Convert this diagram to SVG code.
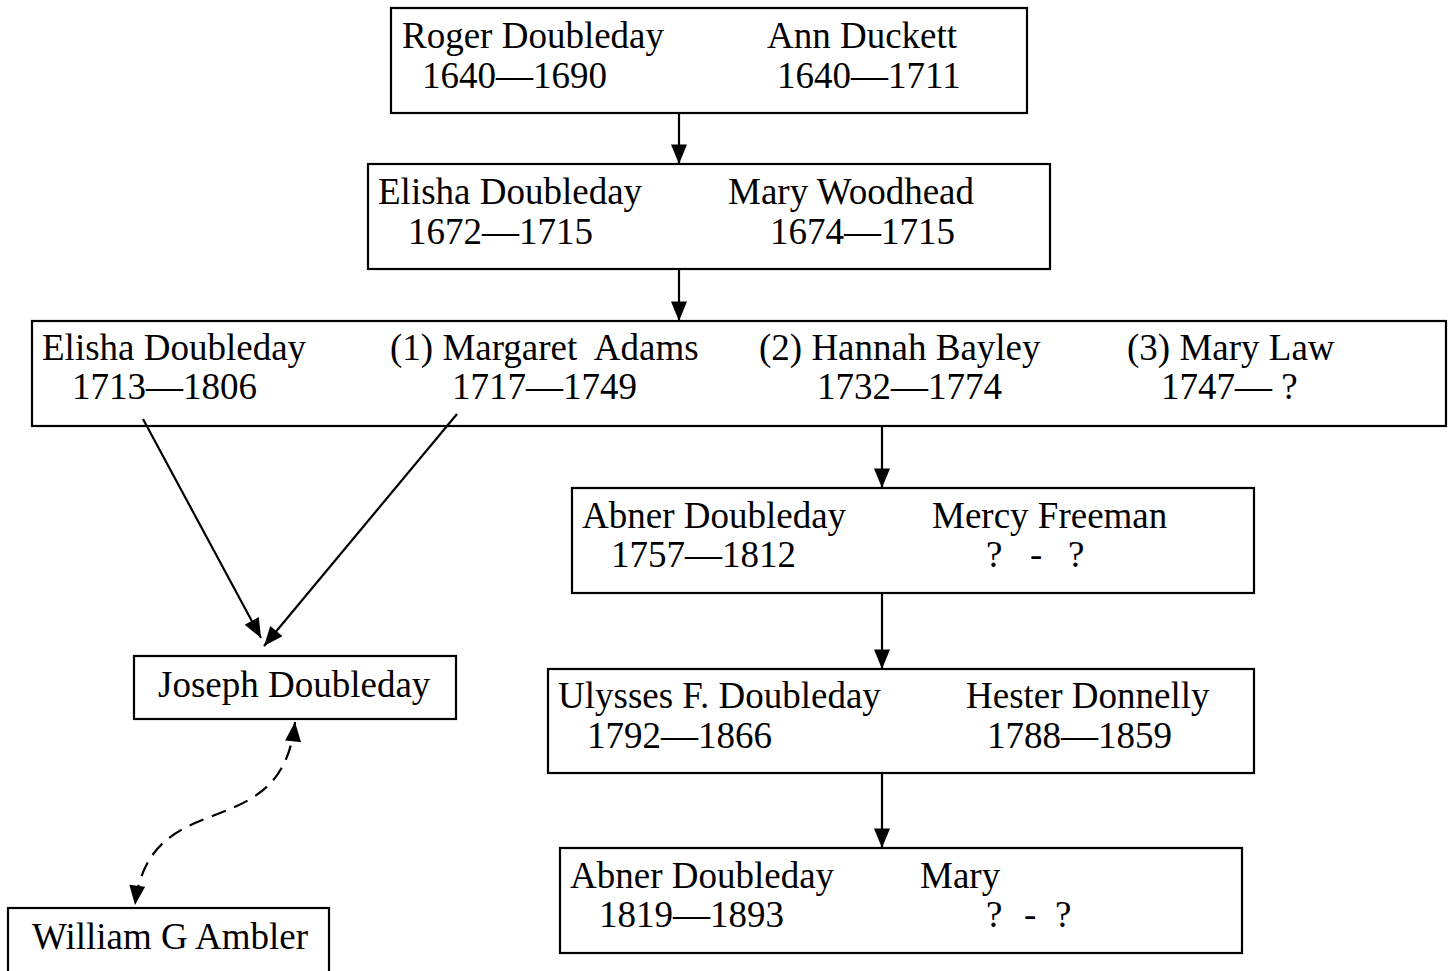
<svg xmlns="http://www.w3.org/2000/svg" width="1453" height="971" viewBox="0 0 1453 971">
<style>
.box{fill:#fff;stroke:#000;stroke-width:2.2}
text{font-family:"Liberation Serif","Times New Roman",serif;font-size:37px;fill:#000}
.pre{white-space:pre}
.c{fill:none;stroke:#000;stroke-width:2.2}
.d{stroke-dasharray:15 9}
</style>
<defs>
<marker id="ah" markerUnits="userSpaceOnUse" markerWidth="20" markerHeight="16" refX="17" refY="7" orient="auto-start-reverse" viewBox="0 0 17 14">
<path d="M0,0 L17,7 L0,14 Z" fill="#000"/>
</marker>
</defs>
<rect width="1453" height="971" fill="#fff"/>
<g id="n1">
<rect class="box" x="391" y="8" width="636" height="105"/>
<text x="402" y="48">Roger Doubleday</text>
<text x="767" y="48">Ann Duckett</text>
<text x="422" y="88">1640—1690</text>
<text x="777" y="88">1640—1711</text>
</g>
<g id="n2">
<rect class="box" x="368" y="164" width="682" height="105"/>
<text x="378" y="204">Elisha Doubleday</text>
<text x="728" y="204">Mary Woodhead</text>
<text x="408" y="244">1672—1715</text>
<text x="770" y="244">1674—1715</text>
</g>
<g id="n3">
<rect class="box" x="32" y="321" width="1414" height="105"/>
<text x="42" y="360">Elisha Doubleday</text>
<text x="390" y="360" class="pre">(1) Margaret  Adams</text>
<text x="759" y="360">(2) Hannah Bayley</text>
<text x="1127" y="360">(3) Mary Law</text>
<text x="72" y="399">1713—1806</text>
<text x="452" y="399">1717—1749</text>
<text x="817" y="399">1732—1774</text>
<text x="1161" y="399">1747— ?</text>
</g>
<g id="n4">
<rect class="box" x="572" y="488" width="682" height="105"/>
<text x="582" y="528">Abner Doubleday</text>
<text x="932" y="528">Mercy Freeman</text>
<text x="611" y="567">1757—1812</text>
<text y="567"><tspan x="986">?</tspan> <tspan x="1030">-</tspan> <tspan x="1068">?</tspan></text>
</g>
<g id="n5">
<rect class="box" x="548" y="669" width="706" height="104"/>
<text x="558" y="708">Ulysses F. Doubleday</text>
<text x="966" y="708">Hester Donnelly</text>
<text x="587" y="748">1792—1866</text>
<text x="987" y="748">1788—1859</text>
</g>
<g id="n6">
<rect class="box" x="560" y="848" width="682" height="105"/>
<text x="570" y="888">Abner Doubleday</text>
<text x="920" y="888">Mary</text>
<text x="599" y="927">1819—1893</text>
<text y="927"><tspan x="986">?</tspan> <tspan x="1024">-</tspan> <tspan x="1055">?</tspan></text>
</g>
<g id="n7">
<rect class="box" x="134" y="656" width="322" height="63"/>
<text x="158" y="697">Joseph Doubleday</text>
</g>
<g id="n8">
<rect class="box" x="8" y="908" width="321" height="80"/>
<text x="32" y="949">William G Ambler</text>
</g>
<g id="connectors">
<line class="c" x1="679" y1="113" x2="679" y2="164" marker-end="url(#ah)"/>
<line class="c" x1="679" y1="269" x2="679" y2="321" marker-end="url(#ah)"/>
<line class="c" x1="882" y1="426" x2="882" y2="488" marker-end="url(#ah)"/>
<line class="c" x1="882" y1="593" x2="882" y2="669" marker-end="url(#ah)"/>
<line class="c" x1="882" y1="773" x2="882" y2="848" marker-end="url(#ah)"/>
<line class="c" x1="143" y1="419" x2="261" y2="638" marker-end="url(#ah)"/>
<line class="c" x1="457" y1="414" x2="264" y2="646" marker-end="url(#ah)"/>
<path class="c d" d="M295,722 C282,850 150,780 135,905" marker-start="url(#ah)" marker-end="url(#ah)"/>
</g>
</svg>
